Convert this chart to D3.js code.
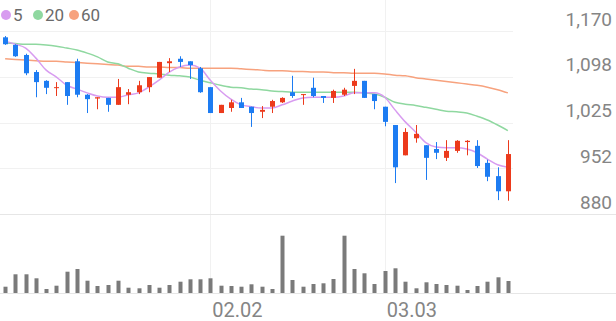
<!DOCTYPE html>
<html>
<head>
<meta charset="utf-8">
<script src="https://cdn.jsdelivr.net/npm/d3@7"></script>
<style>
    body { margin: 0; background: #fff; }
    svg { display: block; font-family: Roboto, "Noto Sans", sans-serif; }
</style>
</head>
<body>
<svg class="wrapper" width="616" height="321"></svg>
<script>
// trading days (2026, MM.DD)
const dates = ["01.05","01.06","01.07","01.08","01.09","01.12","01.13","01.14","01.15","01.16",
    "01.19","01.20","01.21","01.22","01.23","01.26","01.27","01.28","01.29","01.30",
    "02.02","02.03","02.04","02.05","02.06","02.09","02.10","02.11","02.12","02.13",
    "02.19","02.20","02.23","02.24","02.25","02.26","02.27","03.03","03.04","03.05",
    "03.06","03.09","03.10","03.11","03.12","03.13","03.16","03.17","03.18","03.19"];

const open  = [1160,1148,1132,1105,1091,1080,1089,1122,1069,1063,1064,1053,1069,1073,1081,1096,1119,1126,1122,1111,
    1081,1040,1048,1057,1050,1042,1050,1057,1073,1069,1080,1067,1064,1069,1083,1091,1070,1050,1021,973,
    1000,989,983,969,980,994,988,961,940,916];
const high  = [1162,1149,1134,1108,1092,1089,1089,1126,1070,1065,1064,1094,1078,1091,1097,1121,1127,1130,1122,1113,
    1081,1053,1061,1064,1050,1051,1061,1065,1099,1070,1096,1067,1077,1080,1110,1091,1070,1050,1021,1016,
    1021,989,994,997,997,997,997,966,954,997];
const low   = [1148,1129,1100,1065,1070,1067,1053,1065,1040,1046,1042,1053,1054,1070,1073,1096,1105,1113,1094,1072,
    1040,1040,1042,1048,1018,1032,1040,1056,1064,1053,1065,1056,1056,1067,1070,1064,1046,1019,929,973,
    993,934,967,964,977,973,953,932,902,901];
const close = [1149,1130,1103,1089,1080,1081,1067,1069,1062,1065,1053,1081,1073,1084,1097,1121,1122,1121,1116,1073,
    1040,1053,1057,1048,1040,1045,1059,1064,1067,1070,1067,1064,1075,1077,1091,1064,1059,1026,954,1010,
    1007,969,977,980,996,996,956,939,916,975];
const volume = [63000,187000,187000,147000,40000,73000,213000,240000,123000,70000,80000,123000,53000,47000,80000,53000,80000,113000,137000,137000,
    147000,73000,70000,63000,87000,63000,40000,573000,130000,63000,90000,97000,140000,573000,240000,197000,90000,220000,247000,113000,
    47000,107000,90000,80000,73000,30000,70000,113000,157000,120000];

// moving averages
const ma5  = [1154,1149,1143,1127,1108,1097,1084,1078,1072,1067,1065,1065,1069,1072,1081,1092,1105,1113,1116,1111,
    1092,1075,1062,1053,1050,1048,1048,1053,1059,1064,1065,1065,1065,1067,1072,1072,1072,1065,1045,1026,
    1010,993,986,985,985,983,977,967,958,954];
const ma20 = [1151,1150,1149,1149,1148,1146,1143,1140,1135,1129,1121,1118,1111,1105,1103,1102,1100,1099,1097,1092,
    1088,1084,1081,1080,1078,1077,1075,1074,1073,1073,1073,1073,1073,1073,1073,1072,1070,1065,1057,1054,
    1052,1049,1046,1043,1042,1040,1035,1029,1021,1012];
const ma60 = [1126,1125,1124,1123,1122,1122,1121,1120,1119,1118,1117,1116,1114,1114,1113,1113,1112,1112,1111,1111,
    1111,1111,1111,1110,1109,1108,1107,1107,1106,1106,1105,1105,1104,1104,1103,1103,1103,1102,1100,1099,
    1096,1094,1092,1090,1088,1086,1084,1081,1077,1072];

const maNames  = ["5", "20", "60"];
const maColors = ["#d89cf0", "#8fd8a0", "#f7a27e"];

const yTicks      = [880, 952.5, 1025, 1097.5, 1170];
const yTickLabels = ["880", "952", "1,025", "1,098", "1,170"];
const xTickLabels = ["02.02", "03.03"];

const W = 616;
const plotRight = 513;
const priceTop = 31, priceBottom = 214;
const volBottom = 293;
const upColor = "#ec3a1c", downColor = "#1d7cf2";

const svg = d3.select(".wrapper");

const xScale = d3.scaleBand()
    .domain(dates)
    .range([0, plotRight]);
const cx = d => xScale(d) + xScale.bandwidth() / 2;

const yScale = d3.scaleLinear()
    .domain([880, 1170])
    .range([priceBottom, priceTop]);

const vScale = d3.scaleLinear()
    .domain([0, 790000])
    .range([volBottom, priceBottom]);

const candles = dates.map((d, i) => ({
    date: d, o: open[i], h: high[i], l: low[i], c: close[i], v: volume[i]
}));

// grid
const grid = svg.append("g").classed("grid", true);
grid.selectAll("line.h")
    .data(yTicks.slice(1))
    .enter()
    .append("line")
    .attr("x1", 0)
    .attr("x2", plotRight)
    .attr("y1", d => Math.round(yScale(d)) + 0.5)
    .attr("y2", d => Math.round(yScale(d)) + 0.5)
    .attr("stroke", "#f1f1f1");

grid.selectAll("line.v")
    .data(xTickLabels)
    .enter()
    .append("line")
    .attr("x1", d => Math.round(cx(d)) + 0.5)
    .attr("x2", d => Math.round(cx(d)) + 0.5)
    .attr("y1", 0)
    .attr("y2", volBottom)
    .attr("stroke", "#f1f1f1");

// separators across full width
[yScale(880), volBottom].forEach(y => {
    grid.append("line")
        .attr("x1", 0).attr("x2", W)
        .attr("y1", Math.round(y) + 0.5).attr("y2", Math.round(y) + 0.5)
        .attr("stroke", "#e6e6e6");
});

// y labels
svg.append("g")
    .selectAll("text")
    .data(yTicks)
    .enter()
    .append("text")
    .attr("x", 612)
    .attr("y", d => yScale(d) - 5.5)
    .attr("text-anchor", "end")
    .attr("font-size", 19)
    .attr("fill", "#858585")
    .text((d, i) => yTickLabels[i]);

// x labels
svg.append("g")
    .selectAll("text")
    .data(xTickLabels)
    .enter()
    .append("text")
    .attr("x", d => cx(d) + 2)
    .attr("y", 317)
    .attr("font-size", 20)
    .attr("fill", "#858585")
    .text(d => d);

// moving averages
const line = d3.line()
    .x((d, i) => cx(dates[i]))
    .y(d => yScale(d))
    .curve(d3.curveMonotoneX);

svg.append("g")
    .classed("g_ma", true)
    .selectAll("path")
    .data([ma60, ma20, ma5])
    .enter()
    .append("path")
    .attr("fill", "none")
    .attr("stroke", (d, i) => maColors[2 - i])
    .attr("stroke-width", 1.5)
    .attr("d", line);

// candles
const gc = svg.append("g").classed("g_candles", true);
const color = d => d.c >= d.o ? upColor : downColor;

gc.selectAll("line")
    .data(candles)
    .enter()
    .append("line")
    .attr("x1", d => Math.round(cx(d.date)) + 0.5)
    .attr("x2", d => Math.round(cx(d.date)) + 0.5)
    .attr("y1", d => yScale(d.h))
    .attr("y2", d => yScale(d.l))
    .attr("stroke", color)
    .attr("stroke-width", 1);

gc.selectAll("rect")
    .data(candles)
    .enter()
    .append("rect")
    .attr("x", d => Math.round(cx(d.date)) - 2)
    .attr("width", 5)
    .attr("y", d => yScale(Math.max(d.o, d.c)))
    .attr("height", d => Math.max(1, Math.abs(yScale(d.o) - yScale(d.c))))
    .attr("fill", color);

// volume
svg.append("g")
    .classed("g_vol", true)
    .selectAll("rect")
    .data(candles)
    .enter()
    .append("rect")
    .attr("x", d => Math.round(cx(d.date)) - 1.5)
    .attr("width", 4)
    .attr("y", d => vScale(d.v))
    .attr("height", d => volBottom - vScale(d.v))
    .attr("fill", "#7a7a7a");

// legend
const legendX = [6, 38, 74];
const lg = svg.append("g").classed("legend", true);
maNames.forEach((name, i) => {
    lg.append("circle")
        .attr("cx", legendX[i])
        .attr("cy", 15)
        .attr("r", 5)
        .attr("fill", maColors[i]);
    lg.append("text")
        .attr("x", legendX[i] + 7)
        .attr("y", 21)
        .attr("font-size", 17)
        .attr("fill", "#6a6a6a")
        .text(name);
});
</script>
</body>
</html>
